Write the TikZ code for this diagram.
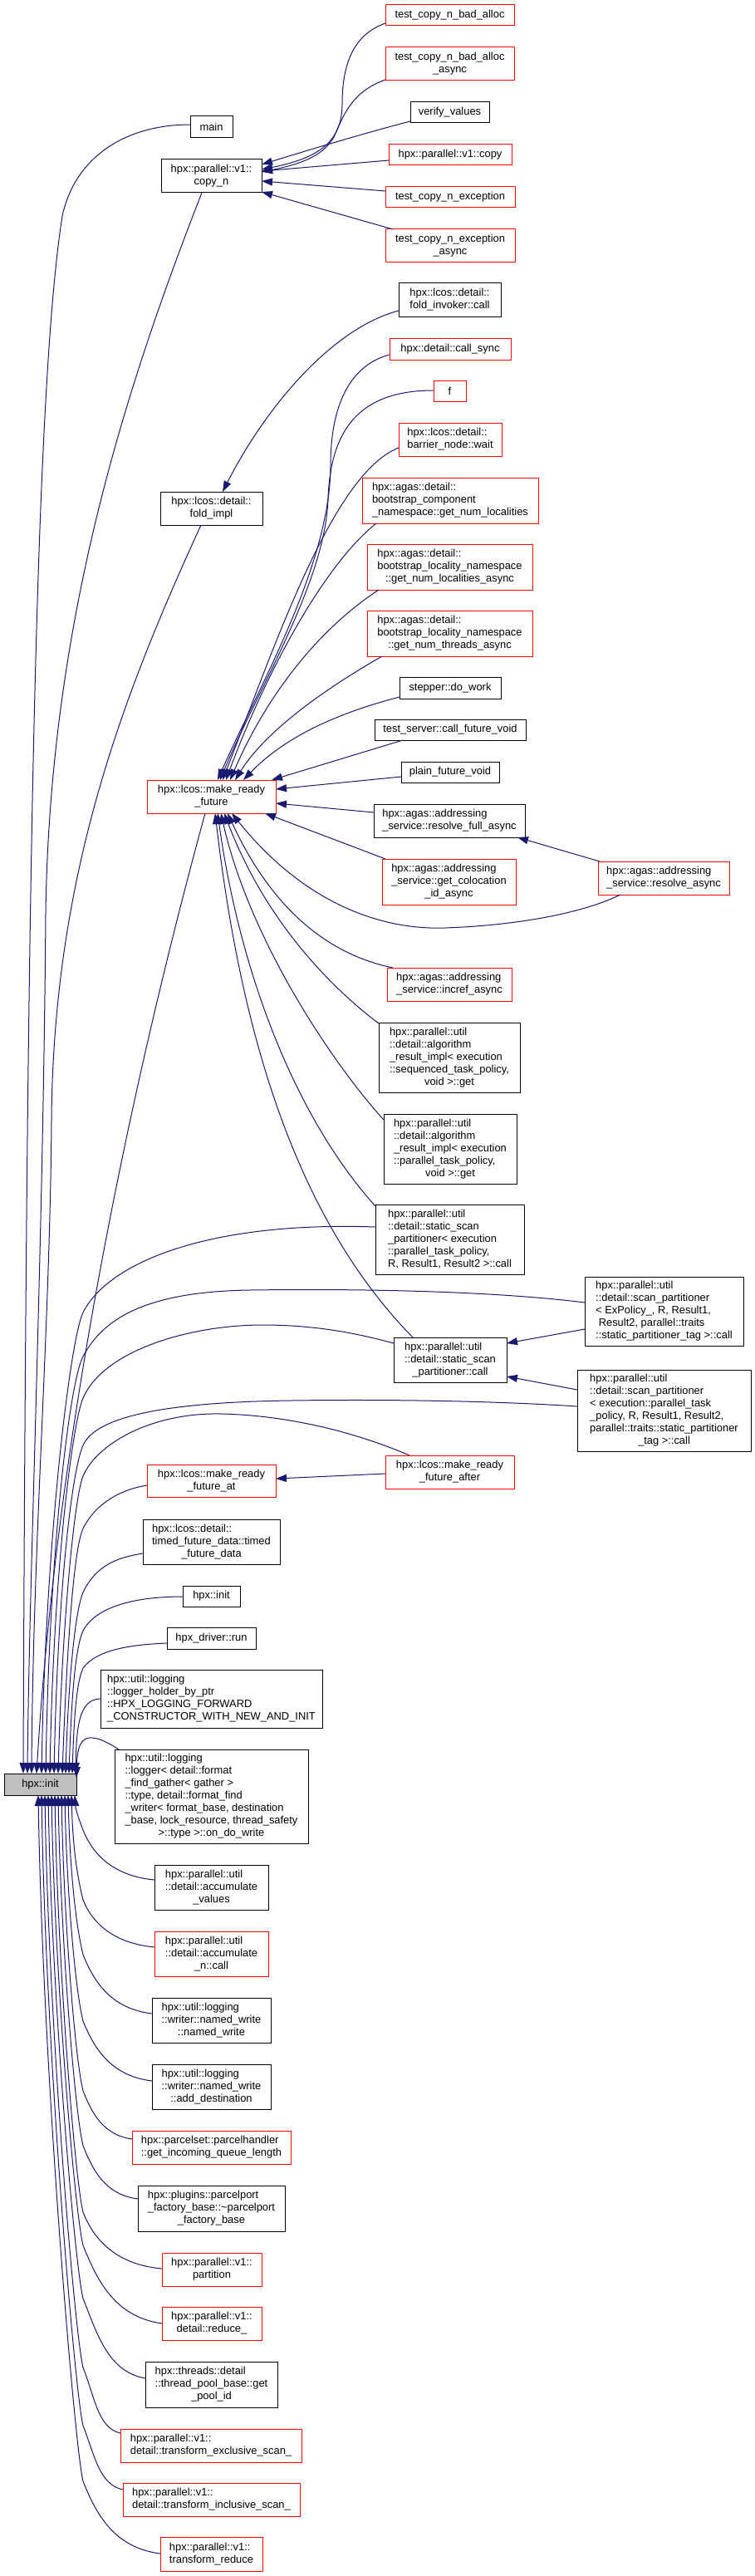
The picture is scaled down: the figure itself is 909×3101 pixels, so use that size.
\documentclass[tikz,border=0pt]{standalone}
\usepackage{fontspec}
\setmainfont{Liberation Sans}
\usetikzlibrary{arrows.meta}
\definecolor{navy}{HTML}{191970}
\definecolor{nodegray}{HTML}{BFBFBF}
\newcommand\LL[2]{\begin{tabular}{@{}l@{}}#1\\\multicolumn{1}{@{}c@{}}{#2}\end{tabular}}
\newcommand\bx[7]{\node[#2, minimum width={#5-#3}, minimum height={#6-#4}] (#1) at ({(#3+#5)/2},{(#4+#6)/2}) {#7};}
\tikzset{
 nb/.style={draw=black, fill=white, line width=1pt, inner sep=0pt, outer sep=0pt, font=\fontsize{12.9}{15}\selectfont},
 nr/.style={nb, draw=red},
 ng/.style={nb, fill=nodegray},
 edg/.style={draw=navy, line width=1pt, arrows={Triangle[length=13pt,width=9pt]-}}
}
\begin{document}
\begin{tikzpicture}[x=1pt,y=-1pt]
\fill[white] (0,0) rectangle (909,3101);
\useasboundingbox (0,0) rectangle (909,3101);
% ---- nodes ----
\bx{main}{nb}{229}{140}{280}{166}{main}
\bx{copyn}{nb}{194}{192}{315}{232}{\LL{hpx::parallel::v1::}{copy\_n}}
\bx{tcbad}{nr}{464}{6}{619}{31}{test\_copy\_n\_bad\_alloc}
\bx{tcbada}{nr}{464}{57}{619}{97}{\LL{test\_copy\_n\_bad\_alloc}{\_async}}
\bx{verify}{nb}{494}{123}{589}{148}{verify\_values}
\bx{pcopy}{nr}{468}{174}{616}{199}{hpx::parallel::v1::copy}
\bx{tcexc}{nr}{464}{225}{620}{250}{test\_copy\_n\_exception}
\bx{tcexca}{nr}{464}{276}{620}{316}{\LL{test\_copy\_n\_exception}{\_async}}
\bx{foldinv}{nb}{480}{341}{603}{381}{\LL{hpx::lcos::detail::}{fold\_invoker::call}}
\bx{callsync}{nr}{469}{407}{615}{433}{hpx::detail::call\_sync}
\bx{fnode}{nr}{522}{458}{561}{483}{f}
\bx{barrier}{nr}{480}{509}{604}{549}{\LL{hpx::lcos::detail::}{barrier\_node::wait}}
\bx{bcomp}{nr}{436}{575}{648}{630}{\LL{hpx::agas::detail::\\bootstrap\_component}{\_namespace::get\_num\_localities}}
\bx{foldimpl}{nb}{193}{592}{316}{632}{\LL{hpx::lcos::detail::}{fold\_impl}}
\bx{gnla}{nr}{442}{655}{641}{710}{\LL{hpx::agas::detail::\\bootstrap\_locality\_namespace}{::get\_num\_localities\_async}}
\bx{gnta}{nr}{442}{735}{641}{790}{\LL{hpx::agas::detail::\\bootstrap\_locality\_namespace}{::get\_num\_threads\_async}}
\bx{stepper}{nb}{481}{815}{603}{841}{stepper::do\_work}
\bx{tserver}{nb}{451}{866}{633}{891}{test\_server::call\_future\_void}
\bx{plain}{nb}{483}{917}{601}{942}{plain\_future\_void}
\bx{mrf}{nr}{177}{939}{332}{979}{\LL{hpx::lcos::make\_ready}{\_future}}
\bx{rfa}{nb}{450}{968}{632}{1008}{\LL{hpx::agas::addressing}{\_service::resolve\_full\_async}}
\bx{gcol}{nr}{460}{1034}{621}{1089}{\LL{hpx::agas::addressing\\\_service::get\_colocation}{\_id\_async}}
\bx{ra}{nr}{720}{1037}{878}{1077}{\LL{hpx::agas::addressing}{\_service::resolve\_async}}
\bx{incref}{nr}{466}{1165}{616}{1205}{\LL{hpx::agas::addressing}{\_service::incref\_async}}
\bx{algseq}{nb}{456}{1231}{626}{1315}{\LL{hpx::parallel::util\\::detail::algorithm\\\_result\_impl< execution\\::sequenced\_task\_policy,}{void >::get}}
\bx{algpar}{nb}{462}{1341}{622}{1425}{\LL{hpx::parallel::util\\::detail::algorithm\\\_result\_impl< execution\\::parallel\_task\_policy,}{void >::get}}
\bx{sspt}{nb}{452}{1450}{631}{1534}{\LL{hpx::parallel::util\\::detail::static\_scan\\\_partitioner< execution\\::parallel\_task\_policy,}{R, Result1, Result2 >::call}}
\bx{spex}{nb}{704}{1537}{895}{1620}{\LL{hpx::parallel::util\\::detail::scan\_partitioner\\< ExPolicy\_, R, Result1,\\\ Result2, parallel::traits}{::static\_partitioner\_tag >::call}}
\bx{sspc}{nb}{474}{1610}{610}{1664}{\LL{hpx::parallel::util\\::detail::static\_scan}{\_partitioner::call}}
\bx{spexec}{nb}{695}{1649}{904}{1747}{\LL{hpx::parallel::util\\::detail::scan\_partitioner\\< execution::parallel\_task\\\_policy, R, Result1, Result2,\\parallel::traits::static\_partitioner}{\_tag >::call}}
\bx{mrfat}{nr}{177}{1763}{332}{1802}{\LL{hpx::lcos::make\_ready}{\_future\_at}}
\bx{mrfafter}{nr}{464}{1752}{619}{1792}{\LL{hpx::lcos::make\_ready}{\_future\_after}}
\bx{timed}{nb}{172}{1829}{337}{1883}{\LL{hpx::lcos::detail::\\timed\_future\_data::timed}{\_future\_data}}
\bx{init2}{nb}{220}{1909}{289}{1934}{hpx::init}
\bx{driver}{nb}{201}{1959}{308}{1985}{hpx\_driver::run}
\bx{lholder}{nb}{121}{2010}{388}{2080}{\LL{hpx::util::logging\\::logger\_holder\_by\_ptr\\::HPX\_LOGGING\_FORWARD}{\_CONSTRUCTOR\_WITH\_NEW\_AND\_INIT}}
\bx{logger}{nb}{138}{2106}{371}{2219}{\LL{hpx::util::logging\\::logger< detail::format\\\_find\_gather< gather >\\::type, detail::format\_find\\\_writer< format\_base, destination\\\_base, lock\_resource, thread\_safety}{>::type >::on\_do\_write}}
\bx{accval}{nb}{186}{2245}{323}{2299}{\LL{hpx::parallel::util\\::detail::accumulate}{\_values}}
\bx{accn}{nr}{186}{2325}{323}{2379}{\LL{hpx::parallel::util\\::detail::accumulate}{\_n::call}}
\bx{nwrite}{nb}{183}{2405}{326}{2459}{\LL{hpx::util::logging\\::writer::named\_write}{::named\_write}}
\bx{adddest}{nb}{183}{2485}{326}{2539}{\LL{hpx::util::logging\\::writer::named\_write}{::add\_destination}}
\bx{incoming}{nr}{159}{2565}{350}{2605}{\LL{hpx::parcelset::parcelhandler}{::get\_incoming\_queue\_length}}
\bx{ppfb}{nb}{166}{2631}{343}{2686}{\LL{hpx::plugins::parcelport\\\_factory\_base::\textasciitilde parcelport}{\_factory\_base}}
\bx{partition}{nr}{195}{2712}{315}{2752}{\LL{hpx::parallel::v1::}{partition}}
\bx{reduce}{nr}{195}{2777}{315}{2817}{\LL{hpx::parallel::v1::}{detail::reduce\_}}
\bx{poolid}{nb}{175}{2843}{334}{2898}{\LL{hpx::threads::detail\\::thread\_pool\_base::get}{\_pool\_id}}
\bx{texcl}{nr}{145}{2924}{363}{2964}{\LL{hpx::parallel::v1::}{detail::transform\_exclusive\_scan\_}}
\bx{tincl}{nr}{148}{2989}{361}{3029}{\LL{hpx::parallel::v1::}{detail::transform\_inclusive\_scan\_}}
\bx{treduce}{nr}{193}{3054}{316}{3095}{\LL{hpx::parallel::v1::}{transform\_reduce}}
\bx{init}{ng}{5}{2135}{92}{2161}{hpx::init}
% ---- copy_n callers ----
\draw[edg] ([xshift=121pt,yshift=-12pt]copyn.north west) .. controls (385,190) and (412,170) .. (412,125) .. controls (412,70) and (430,40) .. ([yshift=-22pt]tcbad.north west);
\draw[edg] ([xshift=121pt,yshift=-15pt]copyn.north west) .. controls (370,196) and (390,185) .. (402,165) .. controls (415,135) and (425,110) .. ([yshift=-39pt]tcbada.north west);
\draw[edg] ([xshift=121pt,yshift=-6pt]copyn.north west) .. controls (380,178) and (440,160) .. ([yshift=-23pt]verify.north west);
\draw[edg] ([xshift=121pt,yshift=-14pt]copyn.north west) -- ([yshift=-19pt]pcopy.north west);
\draw[edg] ([xshift=121pt,yshift=-26pt]copyn.north west) -- ([yshift=-5pt]tcexc.north west);
\draw[edg] ([xshift=121pt,yshift=-39pt]copyn.north west) -- ([xshift=9pt]tcexca.north west);
% ---- fold ----
\draw[edg] ([xshift=75pt]foldimpl.north west) .. controls (320,490) and (400,395) .. ([yshift=-33pt]foldinv.north west);
% ---- make_ready_future callers ----
\draw[edg] ([xshift=85pt]mrf.north west) .. controls (310,830) and (398,680) .. (398,560) .. controls (398,490) and (420,440) .. ([yshift=-20pt]callsync.north west);
\draw[edg] ([xshift=88pt]mrf.north west) .. controls (310,830) and (392,700) .. (395,600) .. controls (398,520) and (430,470) .. ([yshift=-12pt]fnode.north west);
\draw[edg] ([xshift=91pt]mrf.north west) .. controls (330,780) and (400,570) .. ([yshift=-30pt]barrier.north west);
\draw[edg] ([xshift=95pt]mrf.north west) .. controls (320,810) and (390,680) .. ([xshift=17pt,yshift=-55pt]bcomp.north west);
\draw[edg] ([xshift=100pt]mrf.north west) .. controls (320,840) and (380,760) .. ([xshift=14pt,yshift=-55pt]gnla.north west);
\draw[edg] ([xshift=106pt]mrf.north west) .. controls (320,880) and (390,830) .. ([xshift=18pt,yshift=-55pt]gnta.north west);
\draw[edg] ([xshift=116pt]mrf.north west) .. controls (340,890) and (400,860) .. ([yshift=-24pt]stepper.north west);
\draw[edg] ([xshift=150pt]mrf.north west) -- ([xshift=34pt,yshift=-25pt]tserver.north west);
\draw[edg] ([xshift=155pt,yshift=-11pt]mrf.north west) -- ([yshift=-18pt]plain.north west);
\draw[edg] ([xshift=155pt,yshift=-28pt]mrf.north west) -- ([yshift=-10pt]rfa.north west);
\draw[edg] ([xshift=142pt,yshift=-40pt]mrf.north west) -- ([xshift=4pt]gcol.north west);
\draw[edg] ([xshift=102pt,yshift=-40pt]mrf.north west) .. controls (360,1080) and (450,1120) .. (536,1117) .. controls (620,1114) and (700,1100) .. ([xshift=27pt,yshift=-40pt]ra.north west);
\draw[edg] ([xshift=173pt,yshift=-40pt]rfa.north west) -- ([xshift=2pt]ra.north west);
\draw[edg] ([xshift=97pt,yshift=-40pt]mrf.north west) .. controls (330,1100) and (400,1150) .. ([xshift=7pt]incref.north west);
\draw[edg] ([xshift=93pt,yshift=-40pt]mrf.north west) .. controls (320,1110) and (400,1190) .. ([yshift=-1pt]algseq.north west);
\draw[edg] ([xshift=89pt,yshift=-40pt]mrf.north west) .. controls (300,1130) and (400,1280) .. ([yshift=-7pt]algpar.north west);
\draw[edg] ([xshift=85pt,yshift=-40pt]mrf.north west) .. controls (290,1180) and (360,1350) .. ([yshift=-2pt]sspt.north west);
\draw[edg] ([xshift=82pt,yshift=-40pt]mrf.north west) .. controls (285,1200) and (340,1450) .. ([xshift=23pt]sspc.north west);
% ---- partitioner / make_ready_future_at ----
\draw[edg] ([xshift=136pt,yshift=-7pt]sspc.north west) -- ([yshift=-63pt]spex.north west);
\draw[edg] ([xshift=136pt,yshift=-47pt]sspc.north west) -- ([yshift=-24pt]spexec.north west);
\draw[edg] ([xshift=155pt,yshift=-17pt]mrfat.north west) -- ([yshift=-22pt]mrfafter.north west);
% ---- hpx::init, from above ----
\draw[edg] ([xshift=23pt]init.north west) .. controls (32,1000) and (45,450) .. (75,260) .. controls (90,190) and (150,150) .. ([yshift=-10pt]main.north west);
\draw[edg] ([xshift=28pt]init.north west) .. controls (35,1900) and (52,1500) .. (55,1100) .. controls (60,750) and (150,470) .. ([xshift=49pt]copyn.south west);
\draw[edg] ([xshift=33pt]init.north west) .. controls (40,1850) and (60,1600) .. (62,1350) .. controls (64,1050) and (150,833) .. ([xshift=49pt]foldimpl.south west);
\draw[edg] ([xshift=39pt]init.north west) .. controls (70,1700) and (170,1260) .. ([xshift=70pt]mrf.south west);
\draw[edg] ([xshift=45pt]init.north west) .. controls (55,1850) and (85,1610) .. (100,1580) .. controls (130,1520) and (250,1470) .. ([yshift=-27pt]sspt.north west);
\draw[edg] ([xshift=50pt]init.north west) .. controls (60,1850) and (85,1660) .. (100,1633) .. controls (125,1585) and (180,1555) .. (300,1553) .. controls (450,1551) and (600,1555) .. ([yshift=-31pt]spex.north west);
\draw[edg] ([xshift=55pt]init.north west) .. controls (65,1880) and (88,1710) .. (100,1683) .. controls (125,1625) and (230,1595) .. (316,1595) .. controls (380,1595) and (430,1605) .. ([yshift=-7pt]sspc.north west);
\draw[edg] ([xshift=60pt]init.north west) .. controls (70,1900) and (88,1765) .. (100,1740) .. controls (115,1705) and (200,1688) .. (350,1686) .. controls (500,1684) and (620,1688) .. ([yshift=-44pt]spexec.north west);
\draw[edg] ([xshift=65pt]init.north west) .. controls (75,1950) and (90,1800) .. (100,1777) .. controls (115,1740) and (180,1700) .. (267,1702) .. controls (350,1704) and (430,1725) .. ([xshift=29pt]mrfafter.north west);
\draw[edg] ([xshift=70pt]init.north west) .. controls (80,2000) and (88,1865) .. (100,1840) .. controls (115,1810) and (145,1793) .. ([yshift=-25pt]mrfat.north west);
\draw[edg] ([xshift=74pt]init.north west) .. controls (82,2030) and (90,1940) .. (100,1917) .. controls (115,1885) and (140,1875) .. ([yshift=-41pt]timed.north west);
\draw[edg] ([xshift=78pt]init.north west) .. controls (86,2050) and (90,1985) .. (100,1963) .. controls (115,1935) and (160,1922) .. ([yshift=-13pt]init2.north west);
\draw[edg] ([xshift=82pt]init.north west) .. controls (89,2070) and (92,2025) .. (100,2008) .. controls (115,1988) and (150,1980) .. ([yshift=-19pt]driver.north west);
\draw[edg] ([xshift=86pt]init.north west) .. controls (92,2080) and (95,2045) .. ([yshift=-35pt]lholder.north west);
\draw[edg] ([yshift=-5pt]init.north east) .. controls (93,2095) and (100,2078) .. ([xshift=5pt]logger.north west);
% ---- hpx::init, from below ----
\draw[edg] ([xshift=85pt]init.south west) .. controls (91,2178) and (95,2190) .. (100,2203) .. controls (110.8,2230) and (134,2258) .. ([yshift=-18pt]accval.north west);
\draw[edg] ([xshift=81pt]init.south west) .. controls (87.4,2211) and (90.5,2249) .. (100,2287) .. controls (110.3,2313) and (134.4,2339) .. ([yshift=-19pt]accn.north west);
\draw[edg] ([xshift=77pt]init.south west) .. controls (83.8,2238) and (90,2313) .. (100,2353) .. controls (112.8,2385) and (133.2,2418) .. ([yshift=-19pt]nwrite.north west);
\draw[edg] ([xshift=73pt]init.south west) .. controls (80.2,2270) and (90,2393) .. (100,2433) .. controls (113,2465) and (133,2499) .. ([yshift=-20pt]adddest.north west);
\draw[edg] ([xshift=69pt]init.south west) .. controls (76.6,2303) and (90,2477) .. (100,2517) .. controls (110.4,2543) and (123.6,2570) .. ([yshift=-10pt]incoming.north west);
\draw[edg] ([xshift=65pt]init.south west) .. controls (73,2330) and (90,2543) .. (100,2583) .. controls (111.5,2612) and (126.4,2642) .. ([yshift=-16pt]ppfb.north west);
\draw[edg] ([xshift=61pt]init.south west) .. controls (69.4,2362) and (90,2623) .. (100,2663) .. controls (112.2,2694) and (138,2726) .. ([yshift=-19pt]partition.north west);
\draw[edg] ([xshift=57pt]init.south west) .. controls (65.8,2378) and (90,2663) .. (100,2703) .. controls (116.9,2745) and (138,2789) .. ([yshift=-20pt]reduce.north west);
\draw[edg] ([xshift=53pt]init.south west) .. controls (62.2,2403) and (90,2727) .. (100,2767) .. controls (117.3,2810) and (130,2855) .. ([yshift=-20pt]poolid.north west);
\draw[edg] ([xshift=49pt]init.south west) .. controls (58.6,2437) and (90,2810) .. (100,2850) .. controls (114.2,2886) and (118,2923) .. ([yshift=-5pt]texcl.north west);
\draw[edg] ([xshift=45pt]init.south west) .. controls (55,2465) and (90,2880) .. (100,2920) .. controls (113.9,2955) and (119.2,2991) .. ([yshift=-8pt]tincl.north west);
\draw[edg] ([xshift=41pt]init.south west) .. controls (51.4,2491) and (90,2947) .. (100,2987) .. controls (115.6,3026) and (137.2,3067) .. ([yshift=-20pt]treduce.north west);
\end{tikzpicture}
\end{document}
